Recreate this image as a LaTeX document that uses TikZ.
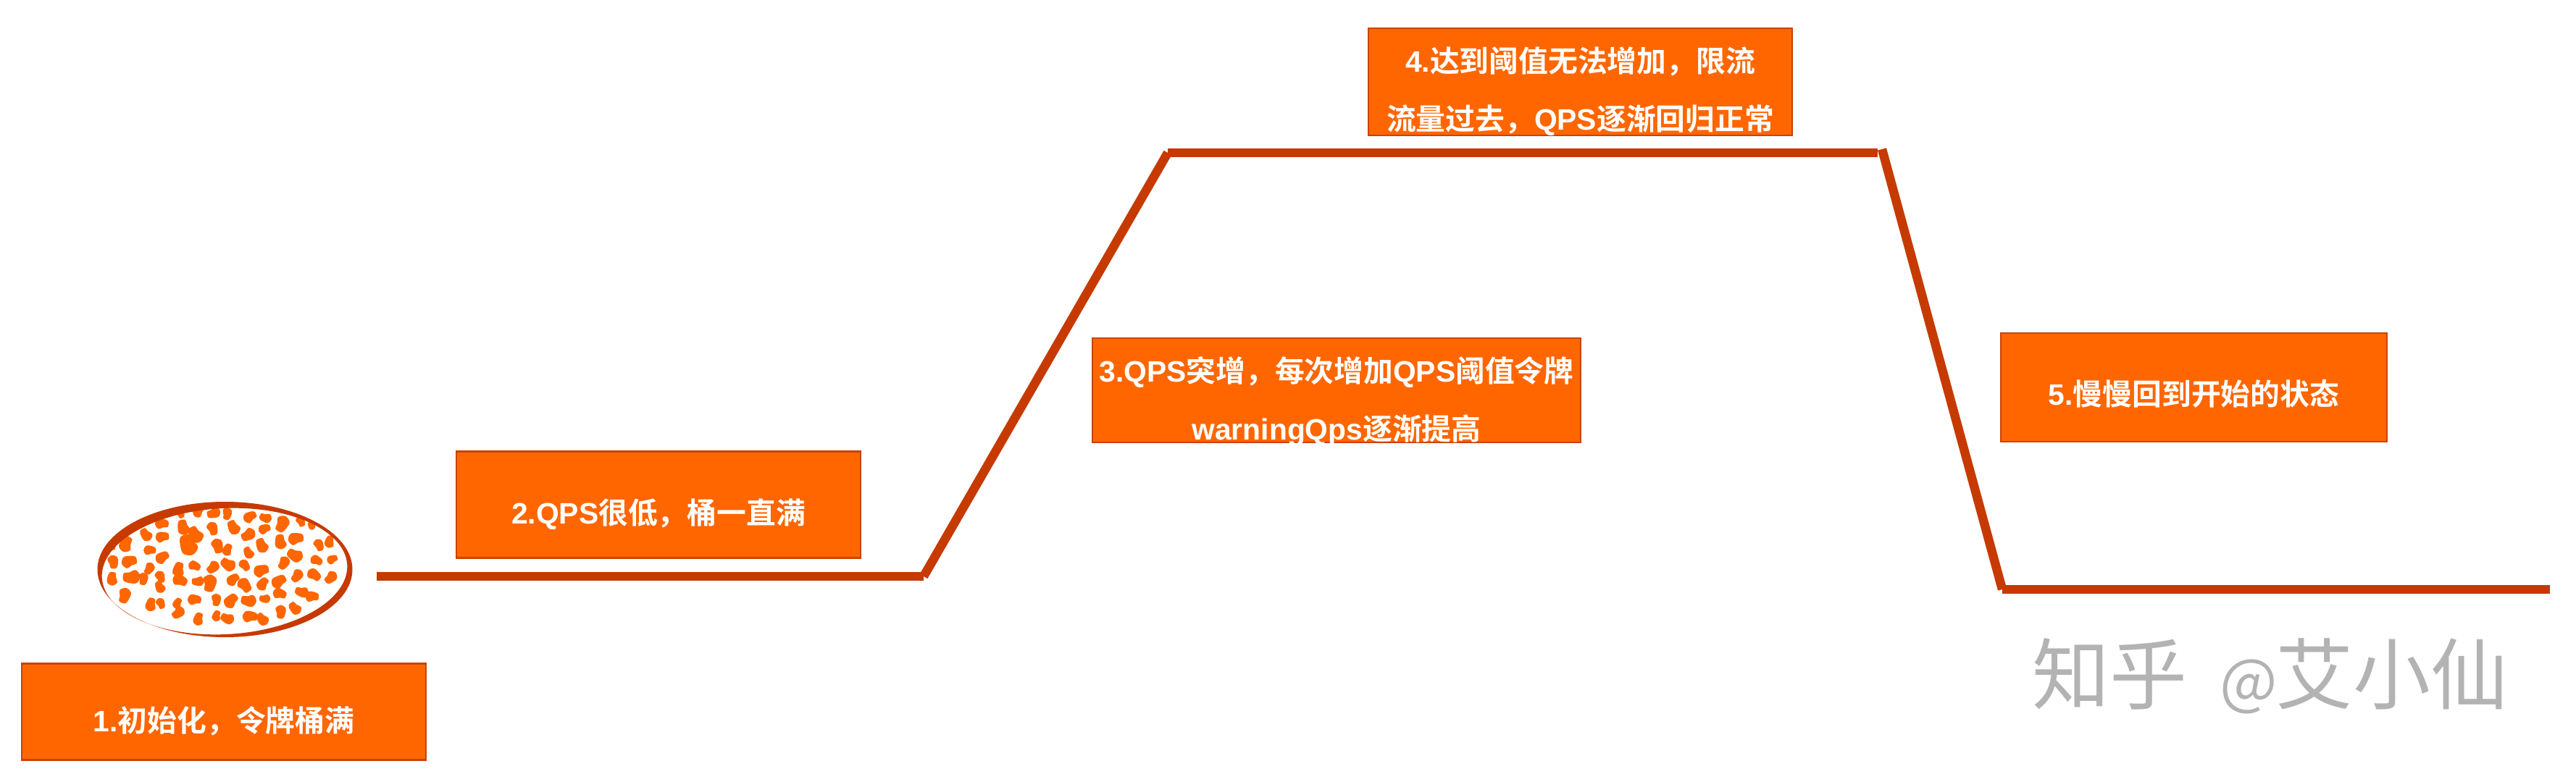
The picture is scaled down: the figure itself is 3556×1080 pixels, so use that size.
\documentclass[tikz,border=0pt]{standalone}
\usepackage{fontspec}
\setmainfont{Liberation Sans}[BoldFont={Liberation Sans Bold}]
\newfontfamily\cjk{Noto Sans CJK SC}[BoldFont={Noto Sans CJK SC Bold}]
\definecolor{boxfill}{HTML}{FF6600}
\definecolor{boxedge}{HTML}{C9430A}
\definecolor{linered}{HTML}{C63A00}
\definecolor{wmgrey}{HTML}{B3B3B3}
\newcommand{\C}[1]{{\cjk\bfseries #1}}
\newcommand{\cma}{\char"FF0C\relax}
\newcommand{\lab}[2]{\raisebox{#1}[0pt][0pt]{\fontsize{20.4pt}{40pt}\selectfont\bfseries\begin{tabular}{@{}c@{}}#2\end{tabular}}}
\newcommand{\wmtext}{知乎\hspace{22.5pt}{\fontsize{42pt}{54pt}\selectfont @}\hspace{-1.5pt}艾小仙}
\tikzset{
  x=0.5pt,y=-0.5pt,
  stepbox/.style={draw=boxedge,line width=1.2pt,fill=boxfill,text=white,inner sep=0pt,anchor=center},
  curve/.style={draw=linered,line width=6pt,line cap=butt,line join=miter},
  slope/.style={draw=linered,line width=6.2pt,line cap=butt},
  grain/.style={fill=boxfill,draw=none},
  wm/.style={inner sep=0pt,font=\fontsize{53.5pt}{54pt}\cjk,anchor=center},
}
\newcommand{\grainblob}[4]{% x y r rot
  \fill[grain,shift={(#1,#2)},rotate=#4,x=1pt,y=1pt,scale=#3*0.6/3]
    plot[smooth cycle,tension=.6] coordinates {(1.1,0) (.5,.62) (-.3,.95) (-1,.35) (-.8,-.55) (.05,-.62) (.7,-.8)};}
\begin{document}
\begin{tikzpicture}
\useasboundingbox (0,0) rectangle (3556,1080);
\fill[white] (0,0) rectangle (3556,1080);

% bucket
\begin{scope}[shift={(100,660)}]
 \foreach \x/\y/\r in {445/145/18,522/140/20,585/145/22,640/148/20,735/162/22,800/165/20,795/212/20,868/190/27,945/180/18,990/198/14,
  370/190/22,460/205/25,510/235/28,480/278/35,580/210/22,668/205/24,728/235/24,862/265/24,925/252/25,1020/278/20,1065/265/20,
  305/235/22,372/245/22,222/275/26,165/278/18,320/300/20,600/282/24,642/298/20,730/310/20,785/280/24,922/320/26,1010/342/20,1076/338/18,
  372/330/23,168/348/22,235/347/25,875/352/22,645/358/25,712/362/20,505/365/20,582/370/22,440/380/24,318/375/20,782/385/25,
  165/418/22,245/410/28,293/418/20,363/410/20,445/425/24,520/428/20,568/436/28,665/422/22,712/445/25,788/440/22,855/430/25,930/405/22,1000/402/23,1070/412/22,
  363/452/20,215/487/25,858/480/22,950/472/22,992/492/22,
  325/525/22,365/520/18,435/520/18,438/558/22,505/505/22,595/505/20,657/510/25,730/508/25,797/500/18,
  522/585/21,597/572/18,642/582/22,735/575/24,787/585/22,862/555/22,922/540/22}
 {
  \pgfmathsetmacro{\px}{\x/3}
  \pgfmathsetmacro{\py}{\y/3}
  \pgfmathsetmacro{\rot}{mod(\x*7+\y*13,360)}
  \grainblob{\px}{\py}{\r}{\rot}
 }
 \fill[linered,even odd rule]
   (210.5,126.5) ellipse [x radius=176,y radius=93.5]
   [rotate around={3:(210,129)}] (210,129) ellipse [x radius=169.5,y radius=87];
\end{scope}

% staged curve
\coordinate (a0) at (520,796);
\coordinate (a1) at (1275,796);
\coordinate (a2) at (1612,211);
\coordinate (a3) at (2592,211);
\coordinate (c0) at (2598,206);
\coordinate (c1) at (2764,814);
\coordinate (c2) at (3520,814);
\draw[curve] (a0) -- (a1);
\draw[slope] (a1) -- (a2);
\draw[curve] (a2) -- (a3);
\draw[slope] (c0) -- (c1);
\draw[curve] (c1) -- (c2);

% boxes
\node[stepbox,minimum width=279pt,minimum height=66.5pt] (b1) at (309,983)
  {\lab{-11pt}{1.\C{初始化\cma 令牌桶满}}};
\node[stepbox,minimum width=279pt,minimum height=73.5pt] (b2) at (909,697)
  {\lab{-10.5pt}{2.QPS\C{很低\cma 桶一直满}}};
\node[stepbox,minimum width=337pt,minimum height=72pt] (b3) at (1845,539)
  {\lab{-11.5pt}{3.QPS\C{突增\cma 每次增加}QPS\C{阈值令牌}\\warningQps\C{逐渐提高}}};
\node[stepbox,minimum width=292.5pt,minimum height=74pt] (b4) at (2181.5,113)
  {\lab{-10.5pt}{4.\C{达到阈值无法增加\cma 限流}\\\C{流量过去\cma}QPS\C{逐渐回归正常}}};
\node[stepbox,minimum width=266.5pt,minimum height=75pt] (b5) at (3028.5,535)
  {\lab{-9.5pt}{5.\C{慢慢回到开始的状态}}};

% watermark
\node[wm,text=wmgrey] (wmark) at (3134,934) {\wmtext};
\end{tikzpicture}
\end{document}
